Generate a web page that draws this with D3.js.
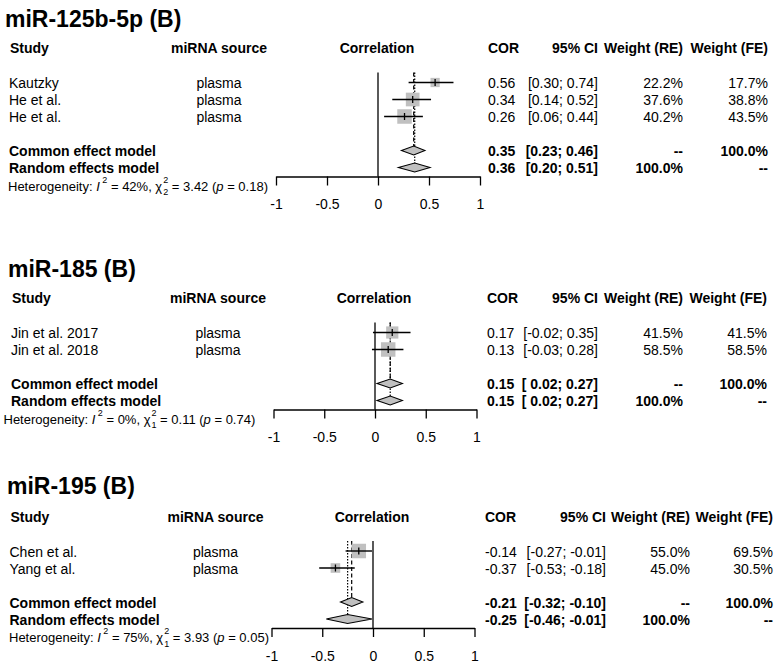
<!DOCTYPE html>
<html>
<head>
<meta charset="utf-8">
<script src="https://cdn.jsdelivr.net/npm/d3@7"></script>
<style>
html,body{margin:0;padding:0;background:#fff;}
svg{display:block;}
text{font-family:"Liberation Sans",Arial,Helvetica,sans-serif;fill:#000;}
</style>
</head>
<body>
<script>
// ---------------- DATA ----------------
const panelTitles = ["miR-125b-5p (B)", "miR-185 (B)", "miR-195 (B)"];
const headerLabels = ["Study", "miRNA source", "Correlation", "COR", "95% CI", "Weight (RE)", "Weight (FE)"];
const modelLabels = ["Common effect model", "Random effects model"];
const tickValues = [-1, -0.5, 0, 0.5, 1];
const tickLabels = ["-1", "-0.5", "0", "0.5", "1"];

// Panel 1: miR-125b-5p
const studies1 = ["Kautzky", "He et al.", "He et al."];
const sources1 = ["plasma", "plasma", "plasma"];
const cor1 = [0.56, 0.34, 0.26];
const lower1 = [0.30, 0.14, 0.06];
const upper1 = [0.74, 0.52, 0.44];
const weightRE1 = [22.2, 37.6, 40.2];
const weightFE1 = [17.7, 38.8, 43.5];
const common1 = [0.35, 0.23, 0.46];
const random1 = [0.36, 0.20, 0.51];
const het1 = ["42%", "2", "3.42", "0.18"];

// Panel 2: miR-185
const studies2 = ["Jin et al. 2017", "Jin et al. 2018"];
const sources2 = ["plasma", "plasma"];
const cor2 = [0.17, 0.13];
const lower2 = [-0.02, -0.03];
const upper2 = [0.35, 0.28];
const weightRE2 = [41.5, 58.5];
const weightFE2 = [41.5, 58.5];
const common2 = [0.15, 0.02, 0.27];
const random2 = [0.15, 0.02, 0.27];
const het2 = ["0%", "1", "0.11", "0.74"];

// Panel 3: miR-195
const studies3 = ["Chen et al.", "Yang et al."];
const sources3 = ["plasma", "plasma"];
const cor3 = [-0.14, -0.37];
const lower3 = [-0.27, -0.53];
const upper3 = [-0.01, -0.18];
const weightRE3 = [55.0, 45.0];
const weightFE3 = [69.5, 30.5];
const common3 = [-0.21, -0.32, -0.10];
const random3 = [-0.25, -0.46, -0.01];
const het3 = ["75%", "1", "3.93", "0.05"];

// ---------------- LAYOUT ----------------
const W = 781, H = 666;
const layout = [
  {hb: 53,    titleX: 5, titleY: 27,  xStudy: 9,   hetX: 8,   xSrc: 219,   x0: 378, unit: 102,   xCor: 488, xCI: 598, xRE: 683, xFE: 768},
  {hb: 303,   titleX: 8, titleY: 277, xStudy: 11,  hetX: 3.5, xSrc: 218,   x0: 375, unit: 101.5, xCor: 487, xCI: 598, xRE: 683, xFE: 767},
  {hb: 521.5, titleX: 7, titleY: 494, xStudy: 9.5, hetX: 9,   xSrc: 215.5, x0: 373, unit: 101.5, xCor: 485, xCI: 606, xRE: 690, xFE: 773}
];

const panels = [
  {studies: studies1, sources: sources1, cor: cor1, lower: lower1, upper: upper1, wRE: weightRE1, wFE: weightFE1, common: common1, random: random1, het: het1},
  {studies: studies2, sources: sources2, cor: cor2, lower: lower2, upper: upper2, wRE: weightRE2, wFE: weightFE2, common: common2, random: random2, het: het2},
  {studies: studies3, sources: sources3, cor: cor3, lower: lower3, upper: upper3, wRE: weightRE3, wFE: weightFE3, common: common3, random: random3, het: het3}
];

const FS = 14, BOLD = 14;
const ROW = 17;
const GRAY = "#c0c0c0";
const MAXSQ = 14.5;

const svg = d3.select("body").append("svg").attr("width", W).attr("height", H);

panels.forEach((p, k) => {
  const L = layout[k];
  const g = svg.append("g");
  const x = d3.scaleLinear().domain([-1, 1]).range([L.x0 - L.unit, L.x0 + L.unit]);
  const n = p.studies.length;
  const baseY = i => L.hb + 35 + ROW * i;      // text baseline for row i
  const midY = i => baseY(i) - 5.5;            // mark center for row i
  const yCommon = midY(n + 1), yRandom = midY(n + 2);
  const axisY = yRandom + 9;

  // Title
  g.append("text").attr("x", L.titleX).attr("y", L.titleY)
    .attr("font-size", 23).attr("font-weight", "bold").text(panelTitles[k]);

  // Headers
  const hdr = (t, xx, anchor) => g.append("text").attr("x", xx).attr("y", L.hb)
    .attr("font-size", BOLD).attr("font-weight", "bold").attr("text-anchor", anchor).text(t);
  hdr(headerLabels[0], L.xStudy + 1, "start");
  hdr(headerLabels[1], L.xSrc, "middle");
  hdr(headerLabels[2], x(0) - 1, "middle");
  hdr(headerLabels[3], L.xCor, "start");
  hdr(headerLabels[4], L.xCI, "end");
  hdr(headerLabels[5], L.xRE, "end");
  hdr(headerLabels[6], L.xFE, "end");

  // formatting helpers
  const allLo = p.lower.concat([p.common[1], p.random[1]]);
  const allHi = p.upper.concat([p.common[2], p.random[2]]);
  const padLo = allLo.some(v => v < 0) && allLo.some(v => v >= 0);
  const padUp = allHi.some(v => v < 0) && allHi.some(v => v >= 0);
  const fmt2 = v => v.toFixed(2);
  const ciStr = (lo, hi) => "[" + ((padLo && lo >= 0) ? "\u00a0" : "") + fmt2(lo) + "; " + ((padUp && hi >= 0) ? "\u00a0" : "") + fmt2(hi) + "]";
  const pct = v => v.toFixed(1) + "%";

  const txt = (t, xx, yy, anchor, bold) => g.append("text").attr("x", xx).attr("y", yy)
    .attr("font-size", FS).attr("font-weight", bold ? "bold" : "normal")
    .attr("text-anchor", anchor).text(t);

  // Study rows text
  p.studies.forEach((s, i) => {
    const yb = baseY(i);
    txt(s, L.xStudy, yb, "start", false);
    txt(p.sources[i], L.xSrc, yb, "middle", false);
    txt(fmt2(p.cor[i]), L.xCor, yb, "start", false);
    txt(ciStr(p.lower[i], p.upper[i]), L.xCI, yb, "end", false);
    txt(pct(p.wRE[i]), L.xRE, yb, "end", false);
    txt(pct(p.wFE[i]), L.xFE, yb, "end", false);
  });

  // Summary rows text
  const cb = baseY(n + 1), rb = baseY(n + 2);
  txt(modelLabels[0], L.xStudy, cb, "start", true);
  txt(fmt2(p.common[0]), L.xCor, cb, "start", true);
  txt(ciStr(p.common[1], p.common[2]), L.xCI, cb, "end", true);
  txt("--", L.xRE, cb, "end", true);
  txt("100.0%", L.xFE, cb, "end", true);
  txt(modelLabels[1], L.xStudy, rb, "start", true);
  txt(fmt2(p.random[0]), L.xCor, rb, "start", true);
  txt(ciStr(p.random[1], p.random[2]), L.xCI, rb, "end", true);
  txt("100.0%", L.xRE, rb, "end", true);
  txt("--", L.xFE, rb, "end", true);

  // Heterogeneity text
  const ht = g.append("text").attr("x", L.hetX).attr("y", axisY + 14).attr("font-size", 13);
  ht.append("tspan").text("Heterogeneity: ");
  ht.append("tspan").attr("font-style", "italic").text("I");
  ht.append("tspan").attr("font-size", 9).attr("dx", 2.5).attr("dy", -8).text("2");
  ht.append("tspan").attr("dy", 8).text(" = " + p.het[0] + ", \u03c7");
  ht.append("tspan").attr("font-size", 9).attr("dy", -8).attr("dx", 1).text("2");
  ht.append("tspan").attr("font-size", 9).attr("dy", 12.5).attr("dx", -5).text(p.het[1]);
  ht.append("tspan").attr("dy", -4.5).text(" = " + p.het[2] + " (");
  ht.append("tspan").attr("font-style", "italic").text("p");
  ht.append("tspan").text(" = " + p.het[3] + ")");

  // Plot: zero line
  const topY = midY(0) - 10;
  g.append("line").attr("x1", x(0)).attr("x2", x(0)).attr("y1", topY).attr("y2", axisY)
    .attr("stroke", "#000").attr("stroke-width", 1.3);

  // Common (dashed) and random (dotted) lines
  g.append("line").attr("x1", x(p.common[0])).attr("x2", x(p.common[0]))
    .attr("y1", topY).attr("y2", yCommon)
    .attr("stroke", "#000").attr("stroke-width", 1.2).attr("stroke-dasharray", "4,2.5");
  g.append("line").attr("x1", x(p.random[0])).attr("x2", x(p.random[0]))
    .attr("y1", topY).attr("y2", yRandom)
    .attr("stroke", "#000").attr("stroke-width", 1.2).attr("stroke-dasharray", "1.5,1.5");

  // Study squares + CIs
  const maxW = d3.max(p.wFE);
  p.studies.forEach((s, i) => {
    const yc = midY(i);
    const sz = MAXSQ * Math.sqrt(p.wFE[i] / maxW);
    g.append("rect").attr("x", x(p.cor[i]) - sz / 2).attr("y", yc - sz / 2)
      .attr("width", sz).attr("height", sz).attr("fill", GRAY);
    g.append("line").attr("x1", x(p.lower[i])).attr("x2", x(p.upper[i]))
      .attr("y1", yc).attr("y2", yc).attr("stroke", "#000").attr("stroke-width", 1.4);
    g.append("line").attr("x1", x(p.cor[i])).attr("x2", x(p.cor[i]))
      .attr("y1", yc - 3.5).attr("y2", yc + 3.5).attr("stroke", "#000").attr("stroke-width", 1.3);
  });

  // Diamonds
  const diamond = (vals, yc) => {
    const pts = [[x(vals[1]), yc], [x(vals[0]), yc - 4.5], [x(vals[2]), yc], [x(vals[0]), yc + 4.5]];
    g.append("path").attr("d", "M" + pts.map(q => q.join(",")).join("L") + "Z")
      .attr("fill", GRAY).attr("stroke", "#000").attr("stroke-width", 1.1);
  };
  diamond(p.common, yCommon);
  diamond(p.random, yRandom);

  // Axis
  const axis = d3.axisBottom(x).tickValues(tickValues)
    .tickFormat((d, i) => tickLabels[i]).tickSizeInner(9).tickSizeOuter(0).tickPadding(14);
  const ag = g.append("g").attr("transform", `translate(0,${axisY})`).call(axis);
  ag.select(".domain").attr("stroke", "#000").attr("stroke-width", 1.3);
  ag.selectAll(".tick line").attr("stroke", "#000").attr("stroke-width", 1.3);
  ag.selectAll(".tick text").attr("font-size", FS).attr("fill", "#000")
    .attr("font-family", "\"Liberation Sans\",Arial,sans-serif");
});
</script>
</body>
</html>
